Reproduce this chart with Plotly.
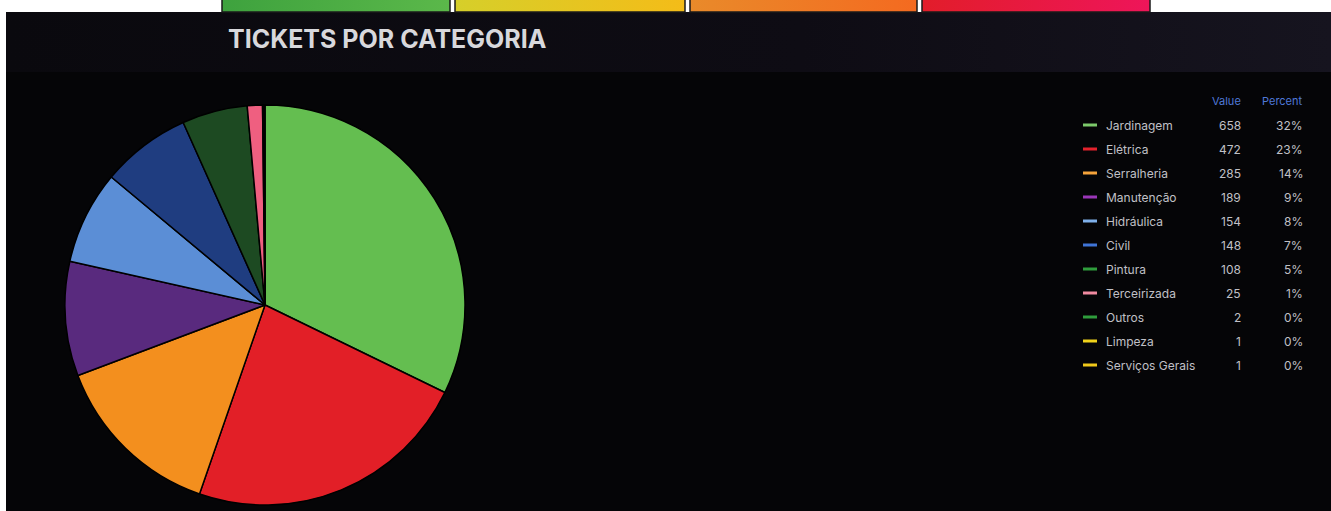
import plotly.graph_objects as go

# -- data
categories = ["Jardinagem", "Elétrica", "Serralheria", "Manutenção", "Hidráulica", "Civil",
              "Pintura", "Terceirizada", "Outros", "Limpeza", "Serviços Gerais"]
values = [658, 472, 285, 189, 154, 148, 108, 25, 2, 1, 1]

# -- styles
slice_colors = ["#64be50", "#e21f27", "#f38f1e", "#592a7e", "#5b8ed6", "#1f3d80",
                "#1d4a22", "#ef5f80", "#2c8a34", "#e8d21c", "#e8c51c"]
legend_colors = ["#7cc96a", "#e3222c", "#f5a33a", "#9a36b8", "#7fb0ea", "#3f74d6",
                 "#2f9d3c", "#f08aa0", "#2f9d3c", "#f0d21a", "#f0c81a"]

W, H = 1331, 511
total = sum(values)

fig = go.Figure()

# -- stat boxes cut off at the top of the screenshot
boxes = [(222, 450, "#3ea23e", "#5bb84a"), (455, 685, "#d6cf2a", "#f4bc18"),
         (690, 917, "#e98a2a", "#f46a20"), (922, 1150, "#e21d2a", "#ee155a")]
for x0, x1, c0, c1 in boxes:
    fig.add_trace(go.Scatter(x=[x0, x1, x1, x0, x0], y=[0, 0, 12, 12, 0], mode="lines",
                             fill="toself", line=dict(width=0),
                             fillgradient=dict(type="horizontal", colorscale=[[0, c0], [1, c1]]),
                             hoverinfo="skip", showlegend=False))

# -- title bar gradient
fig.add_trace(go.Scatter(x=[6, W, W, 6, 6], y=[12, 12, 72, 72, 12], mode="lines",
                         fill="toself", line=dict(width=0),
                         fillgradient=dict(type="horizontal",
                                           colorscale=[[0, "#0a090e"], [0.6, "#0e0c14"], [1, "#16141f"]]),
                         hoverinfo="skip", showlegend=False))

# -- pie
cx, cy, r = 265, 305, 200
fig.add_trace(go.Pie(labels=categories, values=values, sort=False, direction="clockwise",
                     rotation=0, textinfo="none", hoverinfo="label+value+percent",
                     marker=dict(colors=slice_colors, line=dict(color="#000000", width=1.5)),
                     domain=dict(x=[(cx - r) / W, (cx + r) / W], y=[1 - (cy + r) / H, 1 - (cy - r) / H]),
                     showlegend=False))

shapes = [
    dict(type="rect", xref="x", yref="y", x0=6, x1=W, y0=12, y1=H,
         fillcolor="#050507", line=dict(width=0), layer="below"),
]
for x0, x1, c0, c1 in boxes:
    shapes.append(dict(type="rect", xref="x", yref="y", x0=x0, x1=x1, y0=-2, y1=12,
                       fillcolor="rgba(0,0,0,0)", line=dict(color="#1a1a1a", width=1.5)))

annotations = [
    dict(text="<b>TICKETS POR CATEGORIA</b>", x=226, y=39, xref="x", yref="y", xanchor="left",
         yanchor="middle", showarrow=False,
         font=dict(family="Inter, Roboto, Arial", size=25, color="#d8d8dc")),
    dict(text="Value", x=1243, y=101, xref="x", yref="y", xanchor="right", yanchor="middle",
         showarrow=False, font=dict(family="Inter, Roboto, sans-serif", size=11, color="#4f78d8")),
    dict(text="Percent", x=1305, y=101, xref="x", yref="y", xanchor="right", yanchor="middle",
         showarrow=False, font=dict(family="Inter, Roboto, sans-serif", size=11, color="#4f78d8")),
]

row_y0, row_step = 125, 24
for i, (cat, val) in enumerate(zip(categories, values)):
    y = row_y0 + i * row_step
    shapes.append(dict(type="line", xref="x", yref="y", x0=1083, x1=1097, y0=y, y1=y,
                       line=dict(color=legend_colors[i], width=3)))
    pct = round(val / total * 100)
    for txt, x, anchor in [(cat, 1104, "left"), (str(val), 1243, "right"), (f"{pct}%", 1305, "right")]:
        annotations.append(dict(text=txt, x=x, y=y, xref="x", yref="y", xanchor=anchor,
                                yanchor="middle", showarrow=False,
                                font=dict(family="Inter, Roboto, sans-serif", size=12, color="#c0c0c6")))

fig.update_layout(
    width=W, height=H,
    margin=dict(l=0, r=0, t=0, b=0),
    paper_bgcolor="#ffffff",
    plot_bgcolor="rgba(0,0,0,0)",
    xaxis=dict(range=[0, W], visible=False, fixedrange=True),
    yaxis=dict(range=[H, 0], visible=False, fixedrange=True),
    shapes=shapes,
    annotations=annotations,
    showlegend=False,
)

# -- drop the default page margin so the figure sits at the window origin
fig.write_html("out.html", config=dict(displayModeBar=False),
               post_script="document.body.style.margin='0';")
